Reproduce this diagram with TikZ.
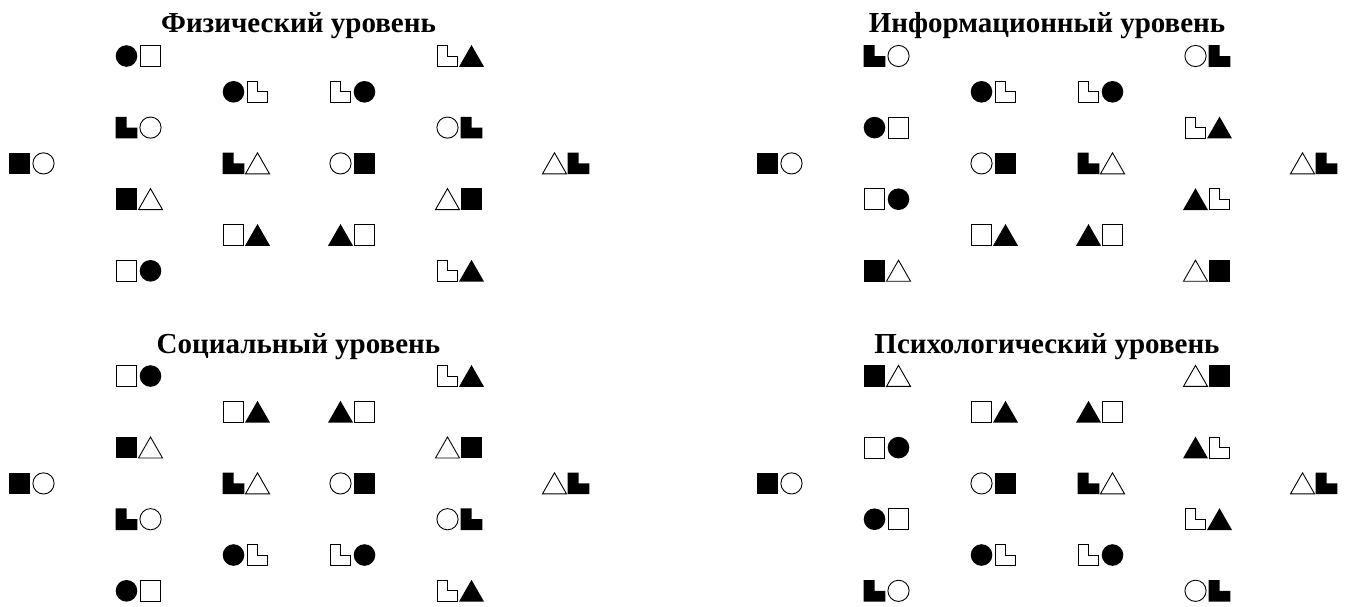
\documentclass[tikz,border=0pt]{standalone}
\usepackage{fontspec}
\setmainfont{Liberation Serif}
\tikzset{title/.style={font=\bfseries\fontsize{29}{31}\selectfont, anchor=base},
outl/.style={draw, line width=0.9pt},
oc/.pic={\draw[outl] (0,0) circle (10.6pt);},
fc/.pic={\fill (0,0) circle (10.8pt);},
os/.pic={\draw[outl] (-10.4,-10.4) rectangle (10.4,10.4);},
fs/.pic={\fill (-10.8,-10.8) rectangle (10.8,10.8);},
ot/.pic={\draw[outl] (-12,10.4) -- (12,10.4) -- (0,-10.6) -- cycle;},
ft/.pic={\fill (-12.5,10.8) -- (12.5,10.8) -- (0,-11) -- cycle;},
ol/.pic={\draw[outl] (-10.4,10.4) -- (10.4,10.4) -- (10.4,0) -- (0,0) -- (0,-10.4) -- (-10.4,-10.4) -- cycle;},
fl/.pic={\fill (-10.8,10.8) -- (10.8,10.8) -- (10.8,0) -- (0,0) -- (0,-10.8) -- (-10.8,-10.8) -- cycle;}
}
% column #1, row #2, left glyph #3, right glyph #4
\newcommand\symPair[4]{\pic at ({107*#1-12},{35.8*#2}) {#3}; \pic at ({107*#1+12},{35.8*#2}) {#4};}

\begin{document}
\begin{tikzpicture}[x=1pt, y=-1pt]
\useasboundingbox (0,0) rectangle (1351,606);

\node[title] (phys) at (298.5,32) {Физический уровень};
\node[title] (info) at (1047,32) {Информационный уровень};
\node[title] (soc) at (298.5,353) {Социальный уровень};
\node[title] (psy) at (1047,353) {Психологический уровень};

% physical
\begin{scope}[shift={(31.5,56)}]
\symPair{1}{0}{fc}{os} \symPair{4}{0}{ol}{ft}
\symPair{2}{1}{fc}{ol} \symPair{3}{1}{ol}{fc}
\symPair{1}{2}{fl}{oc} \symPair{4}{2}{oc}{fl}
\symPair{0}{3}{fs}{oc} \symPair{2}{3}{fl}{ot} \symPair{3}{3}{oc}{fs} \symPair{5}{3}{ot}{fl}
\symPair{1}{4}{fs}{ot} \symPair{4}{4}{ot}{fs}
\symPair{2}{5}{os}{ft} \symPair{3}{5}{ft}{os}
\symPair{1}{6}{os}{fc} \symPair{4}{6}{ol}{ft}
\end{scope}

% information
\begin{scope}[shift={(779.5,56)}]
\symPair{1}{0}{fl}{oc} \symPair{4}{0}{oc}{fl}
\symPair{2}{1}{fc}{ol} \symPair{3}{1}{ol}{fc}
\symPair{1}{2}{fc}{os} \symPair{4}{2}{ol}{ft}
\symPair{0}{3}{fs}{oc} \symPair{2}{3}{oc}{fs} \symPair{3}{3}{fl}{ot} \symPair{5}{3}{ot}{fl}
\symPair{1}{4}{os}{fc} \symPair{4}{4}{ft}{ol}
\symPair{2}{5}{os}{ft} \symPair{3}{5}{ft}{os}
\symPair{1}{6}{fs}{ot} \symPair{4}{6}{ot}{fs}
\end{scope}

% social
\begin{scope}[shift={(31.5,376)}]
\symPair{1}{0}{os}{fc} \symPair{4}{0}{ol}{ft}
\symPair{2}{1}{os}{ft} \symPair{3}{1}{ft}{os}
\symPair{1}{2}{fs}{ot} \symPair{4}{2}{ot}{fs}
\symPair{0}{3}{fs}{oc} \symPair{2}{3}{fl}{ot} \symPair{3}{3}{oc}{fs} \symPair{5}{3}{ot}{fl}
\symPair{1}{4}{fl}{oc} \symPair{4}{4}{oc}{fl}
\symPair{2}{5}{fc}{ol} \symPair{3}{5}{ol}{fc}
\symPair{1}{6}{fc}{os} \symPair{4}{6}{ol}{ft}
\end{scope}

% psychological
\begin{scope}[shift={(779.5,376)}]
\symPair{1}{0}{fs}{ot} \symPair{4}{0}{ot}{fs}
\symPair{2}{1}{os}{ft} \symPair{3}{1}{ft}{os}
\symPair{1}{2}{os}{fc} \symPair{4}{2}{ft}{ol}
\symPair{0}{3}{fs}{oc} \symPair{2}{3}{oc}{fs} \symPair{3}{3}{fl}{ot} \symPair{5}{3}{ot}{fl}
\symPair{1}{4}{fc}{os} \symPair{4}{4}{ol}{ft}
\symPair{2}{5}{fc}{ol} \symPair{3}{5}{ol}{fc}
\symPair{1}{6}{fl}{oc} \symPair{4}{6}{oc}{fl}
\end{scope}
\end{tikzpicture}
\end{document}
